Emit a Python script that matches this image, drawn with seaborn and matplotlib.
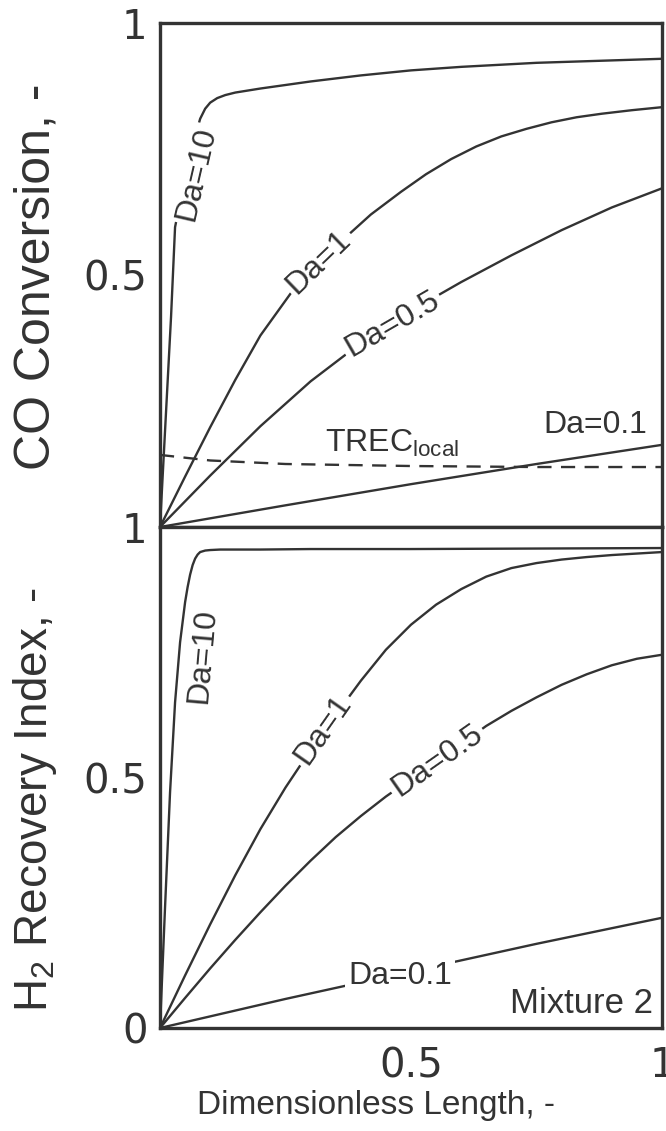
import matplotlib
matplotlib.use("Agg")
import matplotlib.pyplot as plt
from matplotlib.ticker import FixedLocator
import seaborn as sns

sns.set_theme(style="white")
plt.rcParams['font.family'] = ['Liberation Sans', 'DejaVu Sans']
plt.rcParams['mathtext.fontset'] = 'custom'
plt.rcParams['mathtext.rm'] = 'Liberation Sans'
plt.rcParams['mathtext.it'] = 'Liberation Sans:italic'

INK = '#333333'

# ---------------- data ----------------
# top panel: CO conversion
co_da10_x = [0.0, 0.01, 0.022, 0.03, 0.045, 0.06, 0.07, 0.08, 0.09, 0.1, 0.114, 0.13, 0.15,
             0.2, 0.25, 0.3, 0.4, 0.5, 0.6, 0.75, 1.0]
co_da10_y = [0.0, 0.19, 0.417, 0.595, 0.67, 0.735, 0.775, 0.81, 0.83, 0.842, 0.851, 0.857, 0.862,
             0.87, 0.877, 0.884, 0.896, 0.906, 0.913, 0.921, 0.929]
co_da1_x = [0.0, 0.05, 0.1, 0.15, 0.2, 0.265, 0.32, 0.37, 0.42, 0.48, 0.53, 0.58, 0.63, 0.68,
            0.73, 0.78, 0.83, 0.88, 0.94, 1.0]
co_da1_y = [0.0, 0.1, 0.198, 0.292, 0.38, 0.47, 0.53, 0.575, 0.62, 0.665, 0.70, 0.73, 0.755,
            0.775, 0.79, 0.803, 0.813, 0.82, 0.827, 0.833]
co_da05_x = [0.0, 0.1, 0.2, 0.3, 0.4, 0.5, 0.6, 0.7, 0.8, 0.9, 1.0]
co_da05_y = [0.0, 0.102, 0.2, 0.289, 0.365, 0.429, 0.486, 0.539, 0.589, 0.634, 0.672]
co_da01_x = [0.0, 0.25, 0.5, 0.75, 1.0]
co_da01_y = [0.0, 0.043, 0.085, 0.125, 0.163]
trec_x = [0.0, 0.1, 0.25, 0.5, 0.75, 1.0]
trec_y = [0.143, 0.132, 0.125, 0.121, 0.119, 0.119]

# bottom panel: H2 recovery index
h2_da10_x = [0.0, 0.01, 0.02, 0.03, 0.04, 0.05, 0.055, 0.06, 0.065, 0.07, 0.075, 0.08, 0.09,
             0.1, 0.12, 0.15, 0.2, 0.3, 0.5, 0.75, 1.0]
h2_da10_y = [0.0, 0.24, 0.47, 0.65, 0.77, 0.85, 0.88, 0.905, 0.924, 0.937, 0.945, 0.95, 0.953,
             0.954, 0.955, 0.955, 0.955, 0.956, 0.956, 0.957, 0.958]
h2_da1_x = [0.0, 0.05, 0.1, 0.15, 0.2, 0.25, 0.3, 0.35, 0.4, 0.45, 0.5, 0.55, 0.6, 0.65, 0.7,
            0.75, 0.8, 0.85, 0.9, 0.95, 1.0]
h2_da1_y = [0.0, 0.105, 0.207, 0.305, 0.397, 0.48, 0.555, 0.625, 0.693, 0.755, 0.805, 0.845,
            0.876, 0.901, 0.918, 0.928, 0.935, 0.94, 0.944, 0.947, 0.95]
h2_da05_x = [0.0, 0.05, 0.1, 0.15, 0.2, 0.25, 0.3, 0.35, 0.4, 0.45, 0.5, 0.55, 0.6, 0.65, 0.7,
             0.75, 0.8, 0.85, 0.9, 0.95, 1.0]
h2_da05_y = [0.0, 0.06, 0.119, 0.176, 0.231, 0.284, 0.334, 0.381, 0.423, 0.462, 0.497, 0.532,
             0.567, 0.603, 0.633, 0.66, 0.685, 0.706, 0.724, 0.737, 0.745]
h2_da01_x = [0.0, 0.25, 0.5, 0.75, 1.0]
h2_da01_y = [0.0, 0.058, 0.113, 0.168, 0.22]

x_ticks_top = [0.25, 0.5, 0.75]
x_ticks_bottom = [0.5, 1.0]
x_ticklabels_bottom = ['0.5', '1']
y_ticks_top = [0.5, 1.0]
y_ticklabels_top = ['0.5', '1']
y_ticks_bottom = [0.0, 0.5, 1.0]
y_ticklabels_bottom = ['0', '0.5', '1']
y_minor = [0.25, 0.75]

# ---------------- figure ----------------
fig = plt.figure(figsize=(6.66, 11.31), dpi=100)
ax1 = fig.add_axes([0.24024, 0.53404, 0.75375, 0.44562])
ax2 = fig.add_axes([0.24024, 0.09107, 0.75375, 0.44297])

lw = 1.7
for xs, ys in [(co_da10_x, co_da10_y), (co_da1_x, co_da1_y),
               (co_da05_x, co_da05_y), (co_da01_x, co_da01_y)]:
    sns.lineplot(x=xs, y=ys, ax=ax1, color=INK, lw=lw, estimator=None, sort=False)
sns.lineplot(x=trec_x, y=trec_y, ax=ax1, color=INK, lw=lw, estimator=None,
             sort=False, linestyle=(0, (6, 4)))

for xs, ys in [(h2_da10_x, h2_da10_y), (h2_da1_x, h2_da1_y),
               (h2_da05_x, h2_da05_y), (h2_da01_x, h2_da01_y)]:
    sns.lineplot(x=xs, y=ys, ax=ax2, color=INK, lw=lw, estimator=None, sort=False)

for ax in (ax1, ax2):
    ax.set_xlim(0, 1)
    ax.set_ylim(0, 1)
    for s in ax.spines.values():
        s.set_visible(True)
        s.set_color(INK)
        s.set_linewidth(2.4)
    ax.yaxis.set_minor_locator(FixedLocator(y_minor))
    ax.tick_params(which='major', direction='in', length=9, width=2, colors=INK,
                   labelsize=29, pad=9, labelfontfamily='DejaVu Sans')
    ax.tick_params(which='minor', direction='in', length=4, width=2, colors=INK)
    ax.set_xlabel('')
    ax.set_ylabel('')

ax1.set_xticks(x_ticks_top)
ax1.set_xticklabels([])
ax1.set_yticks(y_ticks_top)
ax1.set_yticklabels(y_ticklabels_top)
ax2.set_xticks(x_ticks_bottom)
ax2.set_xticklabels(x_ticklabels_bottom)
ax2.tick_params(axis='x', pad=13)
ax2.set_yticks(y_ticks_bottom)
ax2.set_yticklabels(y_ticklabels_bottom)

ax1.text(-0.247, 0.497, 'CO Conversion, -', transform=ax1.transAxes, rotation=90,
         ha='center', va='center', fontsize=36, color=INK)
ax2.text(-0.249, 0.455, 'H$_2$ Recovery Index, -', transform=ax2.transAxes, rotation=90,
         ha='center', va='center', fontsize=33, color=INK)
ax2.text(0.43, -0.154, 'Dimensionless Length, -', transform=ax2.transAxes,
         ha='center', va='center', fontsize=24, color=INK)

box = dict(facecolor='white', edgecolor='none', pad=2.5)
lab = dict(fontsize=23, color=INK, ha='center', va='center', zorder=5)
# top labels
ax1.text(0.072, 0.70, 'Da=10', rotation=77, bbox=box, **lab)
ax1.text(0.317, 0.526, 'Da=1', rotation=44, bbox=box, **lab)
ax1.text(0.462, 0.403, 'Da=0.5', rotation=30, bbox=box, **lab)
ax1.text(0.867, 0.202, 'Da=0.1', **lab)
ax1.text(0.329, 0.149, 'TREC$_{\\mathrm{local}}$', fontsize=23, color=INK,
         ha='left', va='baseline')
# bottom labels
ax2.text(0.085, 0.742, 'Da=10', rotation=85, **lab)
ax2.text(0.325, 0.595, 'Da=1', rotation=55, bbox=box, **lab)
ax2.text(0.552, 0.533, 'Da=0.5', rotation=35, bbox=box, **lab)
ax2.text(0.478, 0.104, 'Da=0.1', bbox=box, **lab)
ax2.text(0.982, 0.03, 'Mixture 2', fontsize=25, color=INK, ha='right', va='baseline')

fig.savefig('out.png', dpi=100)
